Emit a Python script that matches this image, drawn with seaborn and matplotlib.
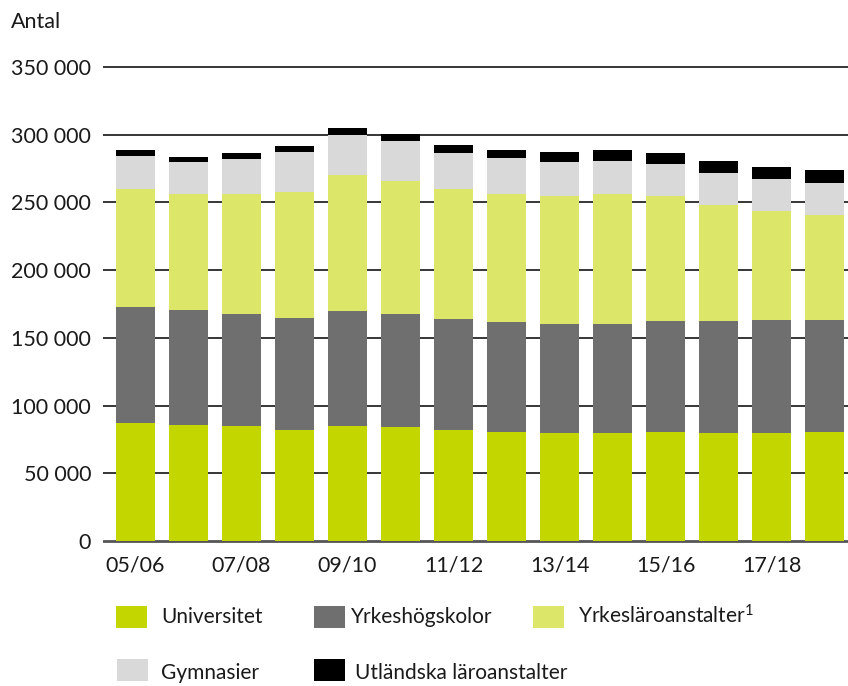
import matplotlib
matplotlib.use("Agg")
import matplotlib.pyplot as plt
import seaborn as sns
import numpy as np
import pandas as pd
from matplotlib.patches import Rectangle

# läsår (14 st), etiketter visas varannan
years = ["05/06", "06/07", "07/08", "08/09", "09/10", "10/11", "11/12",
         "12/13", "13/14", "14/15", "15/16", "16/17", "17/18", "18/19"]

universitet = [87200, 85700, 84900, 82000, 84900, 84200, 82000,
               80500, 79800, 79800, 80500, 79800, 79800, 80500]
yrkeshogskolor = [85600, 84900, 82800, 82700, 85000, 83500, 82000,
                  81300, 80500, 80500, 82000, 82700, 83400, 82700]
yrkeslaro = [87200, 85900, 88800, 93300, 100400, 98200, 96000,
             94700, 94500, 96200, 92300, 85700, 80500, 77600]
gymnasier = [24400, 23500, 25600, 29300, 29800, 29500, 26600,
             26400, 25200, 24200, 23700, 23600, 23700, 23600]
utlandska = [4400, 3600, 4500, 4400, 4900, 5200, 5900,
             5900, 7300, 8100, 8100, 8900, 8800, 9600]

serier = ["Universitet", "Yrkeshögskolor", "Yrkesläroanstalter", "Gymnasier", "Utländska läroanstalter"]
farger = ["#c4d600", "#6f6f6f", "#dce668", "#d9d9d9", "#000000"]

df = pd.DataFrame({"ar": years,
                   "Universitet": universitet,
                   "Yrkeshögskolor": yrkeshogskolor,
                   "Yrkesläroanstalter": yrkeslaro,
                   "Gymnasier": gymnasier,
                   "Utländska läroanstalter": utlandska})
kum = df[serier].cumsum(axis=1)

sns.set_style("white")
plt.rcParams["font.family"] = ["Lato", "DejaVu Sans"]
plt.rcParams["mathtext.fontset"] = "custom"
plt.rcParams["mathtext.rm"] = "Lato"
plt.rcParams["mathtext.default"] = "regular"

W, H = 848, 686
fig = plt.figure(figsize=(8.48, 6.86), dpi=100)
ax = fig.add_axes([0.1215, 0.2085, 0.8785, 0.7036])

# staplade staplar: rita summorna uppifrån och ner
for s, c in reversed(list(zip(serier, farger))):
    sns.barplot(x=df["ar"], y=kum[s], color=c, width=0.74, saturation=1,
                linewidth=0, edgecolor="none", ax=ax, zorder=3)

ax.set_ylim(-1500, 355000)
ax.set_xlim(-0.61, 13.44)
yt = np.arange(0, 350001, 50000)
ax.set_yticks(yt)
ax.set_yticklabels([f"{v:,}".replace(",", " ") for v in yt])
ax.set_xticks(range(0, 14, 2))
ax.set_xticklabels(years[::2])
for v in yt:
    ax.axhline(v, color="#555555" if v == 0 else "#262626",
               lw=2.0 if v == 0 else 1.3, zorder=1)
ax.tick_params(axis="y", length=0, pad=8.5, labelsize=15.5, colors="#1a1a1a")
ax.tick_params(axis="x", length=0, pad=9, labelsize=15.5, colors="#1a1a1a")
ax.set_xlabel("")
ax.set_ylabel("")
sns.despine(ax=ax, left=True, bottom=True)

fig.text(11 / W, 1 - 28 / H, "Antal", fontsize=15.5, va="baseline", ha="left", color="#1a1a1a")

# förklaring
namn = ["Universitet", "Yrkeshögskolor", "Yrkesläroanstalter$^{1}$", "Gymnasier", "Utländska läroanstalter"]
rx = [116, 314, 533, 117, 314]
ry = [628, 628, 628, 681, 681]
tx = [161, 351, 578, 161, 355]
tb = [623, 623, 623, 679, 679]
for n, c, x0, y0, t0, b0 in zip(namn, farger, rx, ry, tx, tb):
    fig.patches.append(Rectangle((x0 / W, 1 - y0 / H), 31 / W, 22 / H,
                                 transform=fig.transFigure, color=c, lw=0))
    fig.text(t0 / W, 1 - b0 / H, n, fontsize=15, va="baseline", ha="left", color="#1a1a1a")

fig.savefig("out.png", dpi=100)
